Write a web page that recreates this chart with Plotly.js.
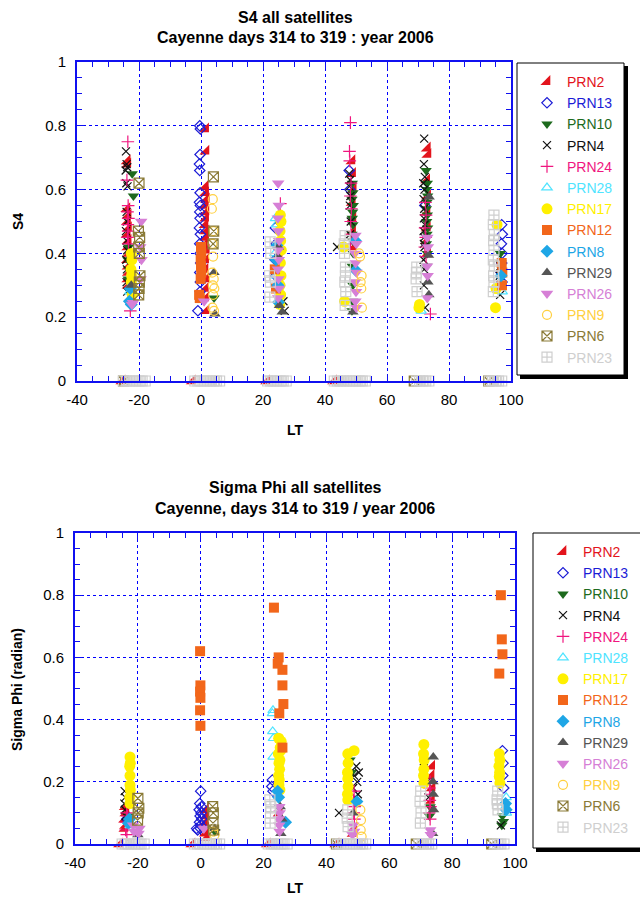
<!DOCTYPE html>
<html><head><meta charset="utf-8">
<script src="https://cdn.plot.ly/plotly-3.0.1.min.js"></script>
<style>html,body{margin:0;padding:0;background:#fff}#chart{width:640px;height:899px}</style>
</head><body><div id="chart"></div>
<script>
// ---------- S4 panel data (LT, S4) ----------
const PRN2_s4_lt = [-23.8,-23.6,-23.9,-23.5,-23.7,-23.4,-23.8,-23.5,-23.6,-23.3,-23.7,-23.5,-23.4,-23.6,-23.5, 1.5,1.6,1.4,1.5,1.7,1.4,1.6,1.5,1.3,1.6,1.5,1.4,1.7,1.5,1.3,1.6,1.4,1.5,1.6, 25.2,25.4, 48.7,48.9,49.1,48.8,49.0,48.9,49.2, 73.0,73.2,72.8,73.1,72.9,73.0,72.7,73.1, -25.5,-2.8,21.2,42.8];
const PRN2_s4 = [0.69,0.68,0.54,0.52,0.50,0.48,0.46,0.44,0.42,0.40,0.38,0.36,0.34,0.32,0.30, 0.79,0.72,0.61,0.59,0.57,0.55,0.53,0.51,0.49,0.47,0.45,0.43,0.41,0.38,0.35,0.32,0.29,0.26,0.22, 0.40,0.30, 0.69,0.65,0.60,0.56,0.51,0.47,0.42, 0.73,0.71,0.63,0.58,0.53,0.48,0.44,0.40, 0,0,0,0];
const PRN13_s4_lt = [-0.4,-0.2,-0.3,-0.5,-0.4,-0.3,-0.5,-0.2,-0.4,-0.3,-0.5,-0.2,-0.4,-0.3,-0.1,-0.4,-0.2,-0.3,-1.0, 24.0,24.2,23.9,24.1, 47.8,48.0, 72.2, 97.0,97.2,96.9,97.1,97.0,96.8,97.1];
const PRN13_s4 = [0.80,0.79,0.71,0.68,0.66,0.59,0.56,0.55,0.53,0.51,0.48,0.46,0.43,0.40,0.37,0.34,0.31,0.28,0.22, 0.48,0.43,0.38,0.33, 0.66,0.60, 0.55, 0.49,0.46,0.43,0.40,0.37,0.34,0.31];
const PRN10_s4_lt = [-22.2,-21.8,-23.4,-23.6,-23.3,-23.5, 4.2, 48.8,49.0,48.7,49.1,48.9,48.8,49.0,48.7,48.9,49.1,48.8,49.0,48.9,48.7, 72.6,73.0,72.8,73.1,72.9,72.7,73.0,72.8,73.1,72.9,72.7,73.0,72.8, 96.6,96.8];
const PRN10_s4 = [0.65,0.58,0.42,0.38,0.35,0.32, 0.26, 0.62,0.59,0.57,0.55,0.53,0.51,0.49,0.46,0.44,0.40,0.36,0.30,0.25,0.22, 0.66,0.62,0.60,0.58,0.56,0.54,0.52,0.50,0.48,0.46,0.43,0.40,0.36, 0.40,0.37];
const PRN4_s4_lt = [-24.2,-24.0,-23.8,-24.3,-24.1,-23.7,-24.0,-23.9,-24.2,-24.0,-23.8,-24.1,-23.9,-24.0,-23.8, 27.0,26.6, 47.8,48.1,47.9,48.2,48.0,48.3,48.1,43.9, 72.0,71.9,72.2,71.7,72.1,71.8,72.0,71.9,72.2,71.8,72.0,71.9,72.1,71.8,72.0,71.9,72.3, 96.6,96.4,96.7,96.5];
const PRN4_s4 = [0.72,0.68,0.67,0.66,0.62,0.61,0.53,0.50,0.47,0.44,0.41,0.38,0.35,0.31,0.28, 0.22,0.25, 0.65,0.63,0.61,0.58,0.55,0.50,0.46,0.42, 0.76,0.68,0.64,0.62,0.60,0.57,0.54,0.51,0.49,0.47,0.45,0.43,0.42,0.38,0.35,0.30,0.23, 0.36,0.33,0.30,0.27];
const PRN24_s4_lt = [-23.6,-23.9,-23.5,-23.7,-23.4,-23.6,-23.5,-23.7,-23.4,-22.8, 25.6, 48.2,47.9,48.0,48.4,48.2,48.5,48.3,48.4,48.2, 72.4,72.6,72.3,72.5,72.2,72.6,74.0];
const PRN24_s4 = [0.75,0.63,0.55,0.53,0.51,0.49,0.47,0.45,0.43,0.22, 0.556, 0.81,0.72,0.69,0.62,0.58,0.54,0.50,0.46,0.43, 0.56,0.52,0.48,0.45,0.42,0.39,0.21];
const PRN28_s4_lt = [-23.0, 24.0,24.3,23.8,24.1, 71.0, 97.2];
const PRN28_s4 = [0.28, 0.51,0.49,0.40,0.33, 0.22, 0.28];
const PRN17_s4_lt = [-22.5,-22.3,-22.6,-22.4,-22.5,-22.2,-22.6, 25.6,25.8,25.5,25.7,25.9,25.6,25.8,25.5,25.7,25.4, 46.0,46.3, 70.5,70.3, 95.5,95.2,95.0];
const PRN17_s4 = [0.40,0.38,0.35,0.33,0.31,0.27,0.25, 0.52,0.50,0.47,0.44,0.41,0.37,0.33,0.30,0.27,0.24, 0.42,0.25, 0.24,0.23, 0.49,0.29,0.23];
const PRN12_s4_lt = [0.0,0.1,-0.1,0.0,0.1,-0.1,-0.6,-0.4, 23.8,24.2, 97.0,97.2,97.1];
const PRN12_s4 = [0.42,0.40,0.38,0.36,0.34,0.32,0.27,0.26, 0.35,0.29, 0.37,0.34,0.30];
const PRN8_s4_lt = [-22.8,-22.5,-23.1, 24.5,24.2,24.8,25.0, 49.8,49.9, 96.8];
const PRN8_s4 = [0.29,0.24,0.25, 0.425,0.38,0.30,0.247, 0.44,0.347, 0.33];
const PRN29_s4_lt = [-22.5, 4.2,4.5, 25.0,24.8,25.3,26.2, 49.0, 73.6,73.4,73.2,73.5];
const PRN29_s4 = [0.30, 0.34,0.21, 0.42,0.39,0.237,0.216, 0.216, 0.577,0.394,0.31,0.27];
const PRN26_s4_lt = [-19.3,-19.6,-19.2,-19.5,-22.3,-21.9, 1.0, 24.9,25.1,24.8,25.0,25.2,24.9,25.1,24.8,25.0,25.2,24.9, 49.8,50.1,49.6,49.9,50.2,49.7,50.0,49.8,50.1, 73.0,73.2,72.9,73.1,73.0];
const PRN26_s4 = [0.50,0.42,0.38,0.32,0.24,0.245, 0.25, 0.62,0.55,0.51,0.47,0.44,0.41,0.38,0.35,0.32,0.29,0.26, 0.456,0.43,0.40,0.37,0.34,0.31,0.28,0.25,0.23, 0.45,0.42,0.36,0.33,0.26];
const PRN9_s4_lt = [3.8,3.5,4.0,3.7,3.9,3.6,4.1,3.8,4.3,3.9,3.7,4.2, 51.0,51.3,51.8,51.5,51.7,51.9];
const PRN9_s4 = [0.57,0.54,0.47,0.43,0.39,0.34,0.32,0.30,0.29,0.27,0.23,0.22, 0.40,0.39,0.33,0.31,0.29,0.23];
const PRN6_s4_lt = [-20.0,-20.2,-19.8,-20.1,-19.9,-19.7,-19.9,-20.0,-20.1, 4.0,4.1,3.9, -25.0,68.8,92.8];
const PRN6_s4 = [0.62,0.47,0.45,0.42,0.40,0.33,0.31,0.29,0.27, 0.64,0.47,0.43, 0,0,0];
const PRN23_s4_lt = [22.3,22.1,22.4,22.2,22.5, 46.5,46.3,46.6,46.4,46.7,46.5,46.2,46.6, 69.6,69.4,69.7,69.5, 94.5,94.3,94.6,94.4,94.5,94.3,94.6,94.4,94.5,94.3,
  -25,-24,-23,-22,-21,-20,-19,-18, -2,-1,0,1,2,3,4,5,6, 21.5,22.5,23.5,24.5,25.5,26.5,27.5, 43,44,45,46,47,48,49,50,51,52,53, 69.5,70.5,71.5,72.5,73.5, 93,94,95,96,97];
const PRN23_s4 = [0.436,0.33,0.31,0.263,0.40, 0.456,0.40,0.357,0.31,0.28,0.237,0.43,0.33, 0.357,0.32,0.28,0.34, 0.52,0.49,0.46,0.44,0.41,0.38,0.36,0.33,0.31,0.28,
  0,0,0,0,0,0,0,0, 0,0,0,0,0,0,0,0,0, 0,0,0,0,0,0,0, 0,0,0,0,0,0,0,0,0,0,0, 0,0,0,0,0, 0,0,0,0,0];

// ---------- Sigma Phi panel data (LT, radian) ----------
const PRN2_sp_lt = [-24.0,-23.8,-24.2,-23.9,-24.1, 1.5,1.7,1.4,1.6,1.5,1.8, 25.0, 48.5,48.7, 73.5,73.3,73.6,73.4, -25.8,-2.8,21.2,43.0];
const PRN2_sp = [0.12,0.10,0.08,0.06,0.05, 0.11,0.09,0.07,0.05,0.035,0.02, 0.10, 0.034,0.05, 0.25,0.22,0.18,0.14, 0,0,0,0];
const PRN13_sp_lt = [-23.5, 0.0,-0.3,0.2,-0.5,0.1,-0.2,0.3,-0.4,0.0,-0.1,-1.0,-1.3, 22.8,22.6,23.0, 96.0,96.2,96.1,96.4];
const PRN13_sp = [0.08, 0.17,0.13,0.12,0.11,0.10,0.09,0.08,0.07,0.06,0.05,0.045,0.05, 0.206,0.185,0.17, 0.30,0.26,0.22,0.18];
const PRN10_sp_lt = [-23.0,-22.8, 4.5, 25.0, 47.5,48.0, 73.0,72.8, 96.0,96.3,95.8];
const PRN10_sp = [0.09,0.07, 0.04, 0.12, 0.27,0.23, 0.12,0.09, 0.09,0.072,0.06];
const PRN4_sp_lt = [-24.2,-24.0,-24.3,-24.1,-23.9, 49.5,50.3,48.8,49.8,48.5,50.0,49.2, 44.0, 71.0,72.0,72.5, 95.5];
const PRN4_sp = [0.17,0.15,0.13,0.11,0.09, 0.25,0.23,0.22,0.20,0.18,0.16,0.15, 0.10, 0.266,0.20,0.15, 0.06];
const PRN24_sp_lt = [-23.6,-23.3,-23.8,-23.9,-23.5, 48.8,48.6,49.0,48.7,48.9, 73.0,72.8,73.2,72.9,73.1,72.7,73.0];
const PRN24_sp = [0.10,0.09,0.07,0.045,0.03, 0.17,0.14,0.12,0.10,0.08, 0.20,0.18,0.16,0.14,0.12,0.10,0.08];
const PRN28_sp_lt = [-22.5, 22.8,23.0,22.9,23.1,23.0, 97.2,97.0,97.3];
const PRN28_sp = [0.06, 0.42,0.43,0.362,0.34,0.28, 0.15,0.12,0.10];
const PRN17_sp_lt = [-22.5,-22.4,-22.6,-22.5,-22.5,-22.4,-22.6,-22.5, 24.8,25.3,24.7,25.2,24.9,25.1,24.8,25.0,24.9,25.2,25.4,25.6, 46.8,46.9,46.7,46.8,46.9,46.7,46.8,48.8, 71.0,70.9,71.1,71.0,70.9,71.0, 95.0,95.2,94.9,95.1,95.0,95.2];
const PRN17_sp = [0.28,0.26,0.25,0.22,0.19,0.174,0.15,0.13, 0.34,0.31,0.29,0.27,0.26,0.24,0.22,0.206,0.19,0.174,0.30,0.33, 0.29,0.26,0.23,0.21,0.185,0.16,0.142,0.30, 0.32,0.29,0.27,0.24,0.22,0.196, 0.29,0.27,0.25,0.23,0.217,0.196];
const PRN12_sp_lt = [-0.2,-0.1,-0.2,-0.1,-0.2,-0.1, 23.3, 24.8,24.5,26.0,26.0,26.3,25.0,26.0, 95.5,95.8,96.0,95.0];
const PRN12_sp = [0.62,0.51,0.49,0.47,0.43,0.38, 0.76, 0.60,0.58,0.56,0.51,0.45,0.42,0.31, 0.80,0.658,0.61,0.548];
const PRN8_sp_lt = [-23.0,-22.7, 24.5,24.8,27.0, 49.7, 97.0,97.2];
const PRN8_sp = [0.067,0.08, 0.17,0.15,0.07, 0.137, 0.13,0.11];
const PRN29_sp_lt = [-20.0, 4.5, 25.5,25.8,25.3, 48.5, 74.0,74.1,73.8,74.0,73.9];
const PRN29_sp = [0.03, 0.05, 0.034,0.08,0.12, 0.10, 0.28,0.11,0.034,0.16,0.20];
const PRN26_sp_lt = [-19.5,-19.8,-21.5,-21.2, 1.0, 25.0,25.1,24.9,25.0,25.1, 48.5,48.8,48.3, 73.0,73.2];
const PRN26_sp = [0.05,0.034,0.06,0.04, 0.05, 0.12,0.10,0.08,0.06,0.04, 0.06,0.04,0.03, 0.045,0.03];
const PRN9_sp_lt = [4.0,4.4, 50.8,51.0,50.9,51.2];
const PRN9_sp = [0.04,0.03, 0.11,0.077,0.045,0.024];
const PRN6_sp_lt = [-20.0,-19.7,-19.9,-20.1, 3.8,4.0,3.9,4.1, 43.2,68.6,92.6];
const PRN6_sp = [0.147,0.115,0.10,0.077, 0.12,0.10,0.067,0.045, 0,0,0];
const PRN23_sp_lt = [22.0,22.2,22.1,22.3, 46.8,46.6,46.9, 70.0,69.8,70.1,69.9, 94.5,94.3,94.6,94.4,
  -25,-24,-23,-22,-21,-20,-19,-18, -2,-1,0,1,2,3,4,5,6, 21.5,22.5,23.5,24.5,25.5,26.5,27.5, 43.5,44.5,45.5,46.5,47.5,48.5,49.5,50.5,51.5,52.5, 69.5,70.5,71.5,72.5,73.5, 93.5,94.5,95.5,96.5];
const PRN23_sp = [0.142,0.10,0.067,0.12, 0.11,0.083,0.056, 0.17,0.137,0.10,0.067, 0.17,0.142,0.11,0.13,
  0,0,0,0,0,0,0,0, 0,0,0,0,0,0,0,0,0, 0,0,0,0,0,0,0, 0,0,0,0,0,0,0,0,0,0, 0,0,0,0,0, 0,0,0,0];

const SATELLITES = ['PRN2','PRN13','PRN10','PRN4','PRN24','PRN28','PRN17','PRN12','PRN8','PRN29','PRN26','PRN9','PRN6','PRN23'];
const X_TICKS = [-40,-20,0,20,40,60,80,100];

// lookup built from the arrays above
const S4_DATA = {
  PRN2:[PRN2_s4_lt,PRN2_s4], PRN13:[PRN13_s4_lt,PRN13_s4], PRN10:[PRN10_s4_lt,PRN10_s4], PRN4:[PRN4_s4_lt,PRN4_s4],
  PRN24:[PRN24_s4_lt,PRN24_s4], PRN28:[PRN28_s4_lt,PRN28_s4], PRN17:[PRN17_s4_lt,PRN17_s4], PRN12:[PRN12_s4_lt,PRN12_s4],
  PRN8:[PRN8_s4_lt,PRN8_s4], PRN29:[PRN29_s4_lt,PRN29_s4], PRN26:[PRN26_s4_lt,PRN26_s4], PRN9:[PRN9_s4_lt,PRN9_s4],
  PRN6:[PRN6_s4_lt,PRN6_s4], PRN23:[PRN23_s4_lt,PRN23_s4]
};
const SP_DATA = {
  PRN2:[PRN2_sp_lt,PRN2_sp], PRN13:[PRN13_sp_lt,PRN13_sp], PRN10:[PRN10_sp_lt,PRN10_sp], PRN4:[PRN4_sp_lt,PRN4_sp],
  PRN24:[PRN24_sp_lt,PRN24_sp], PRN28:[PRN28_sp_lt,PRN28_sp], PRN17:[PRN17_sp_lt,PRN17_sp], PRN12:[PRN12_sp_lt,PRN12_sp],
  PRN8:[PRN8_sp_lt,PRN8_sp], PRN29:[PRN29_sp_lt,PRN29_sp], PRN26:[PRN26_sp_lt,PRN26_sp], PRN9:[PRN9_sp_lt,PRN9_sp],
  PRN6:[PRN6_sp_lt,PRN6_sp], PRN23:[PRN23_sp_lt,PRN23_sp]
};

// ---------- styles ----------
const STYLE = {
  PRN2:  {symbol:'triangle-se', color:'#e3141c', size:11, open:false},
  PRN13: {symbol:'diamond-open', color:'#1c1cd6', size:8, open:true},
  PRN10: {symbol:'triangle-down', color:'#1d6a1d', size:10, open:false},
  PRN4:  {symbol:'x-thin-open', color:'#111111', size:8, open:true},
  PRN24: {symbol:'cross-thin-open', color:'#f0167f', size:9, open:true},
  PRN28: {symbol:'triangle-up-open', color:'#4fe4ff', size:9, open:true},
  PRN17: {symbol:'circle', color:'#fff000', size:11, open:false},
  PRN12: {symbol:'square', color:'#f2661a', size:10, open:false},
  PRN8:  {symbol:'diamond', color:'#1ea6e6', size:10, open:false},
  PRN29: {symbol:'triangle-up', color:'#555555', size:10, open:false},
  PRN26: {symbol:'triangle-down', color:'#d67fd6', size:11, open:false},
  PRN9:  {symbol:'circle-open', color:'#ffd040', size:9, open:true},
  PRN6:  {symbol:'square-x-open', color:'#8a7a36', size:10, open:true},
  PRN23: {symbol:'square-cross-open', color:'#cfcfcf', size:10, open:true}
};

const W = 640, H = 899;
const px = v => v / W;
const py = v => 1 - v / H;

const traces = [];
function addPanel(dataMap, xa, ya, legendId) {
  SATELLITES.forEach(name => {
    const st = STYLE[name];
    const d = dataMap[name];
    traces.push({
      type:'scatter', mode:'markers', x:d[0], y:d[1], xaxis:xa, yaxis:ya, legend:legendId,
      name:'<span style="color:' + st.color + '">' + name + '</span>',
      cliponaxis:false, hoverinfo:'skip',
      marker:{symbol:st.symbol, color:st.color, size:st.size, line:{color:st.color, width: st.open ? 1.2 : 0}}
    });
  });
}
addPanel(S4_DATA, 'x', 'y', 'legend');
addPanel(SP_DATA, 'x2', 'y2', 'legend2');

// minor tick positions derived from the axis range (every 5 LT units)
const X_MINOR = [];
for (let v = X_TICKS[0]; v <= X_TICKS[X_TICKS.length - 1]; v += 5) if (v % 20 !== 0) X_MINOR.push(v);

const BLUE = '#1010f0';
const FONT = 'Liberation Sans, Arial, sans-serif';
function xAxis(d0, d1, anchor) {
  return {domain:[px(d0), px(d1)], anchor:anchor, range:[-40,100], tickmode:'array', tickvals:X_TICKS, ticktext:X_TICKS.map(String),
    showline:true, linecolor:BLUE, linewidth:2, mirror:'ticks', ticks:'inside', ticklen:7, tickcolor:BLUE, tickwidth:1,
    minor:{ticks:'inside', ticklen:5, tickmode:'array', tickvals:X_MINOR, tickcolor:BLUE, tickwidth:1, showgrid:false},
    showgrid:true, gridcolor:'#0000ff', griddash:'dot', gridwidth:1, zeroline:false,
    tickfont:{family:FONT, size:15, color:'#000'}, ticklabelstandoff:4, fixedrange:true};
}
function yAxis(d0, d1, anchor) {
  return {domain:[py(d1), py(d0)], anchor:anchor, range:[0,1], tickmode:'linear', dtick:0.2, tick0:0,
    showline:true, linecolor:BLUE, linewidth:2, mirror:'ticks', ticks:'inside', ticklen:7, tickcolor:BLUE, tickwidth:1,
    minor:{ticks:'inside', ticklen:5, tickmode:'linear', dtick:0.05, tick0:0, tickcolor:BLUE, tickwidth:1, showgrid:false},
    showgrid:true, gridcolor:'#0000ff', griddash:'dot', gridwidth:1, zeroline:false,
    tickfont:{family:FONT, size:15, color:'#000'}, ticklabelstandoff:6, fixedrange:true};
}

function ann(text, x, y, size, angle) {
  return {text:'<b>' + text + '</b>', x:px(x), y:py(y), xref:'paper', yref:'paper', xanchor:'center', yanchor:'middle',
    showarrow:false, textangle: angle || 0, font:{family:FONT, size:size, color:'#000'}};
}

const layout = {
  width:W, height:H, margin:{l:0,r:0,t:0,b:0}, paper_bgcolor:'#fff', plot_bgcolor:'#fff',
  showlegend:true, hovermode:false,
  xaxis: xAxis(77, 511, 'y'),
  yaxis: yAxis(62, 381, 'x'),
  xaxis2: xAxis(75, 515, 'y2'),
  yaxis2: yAxis(533, 844, 'x2'),
  legend:{x:px(527), y:py(66), xanchor:'left', yanchor:'top', bgcolor:'rgba(0,0,0,0)', borderwidth:0,
    font:{family:FONT, size:14, color:'#000'}, itemclick:false, itemdoubleclick:false},
  legend2:{x:px(543), y:py(536), xanchor:'left', yanchor:'top', bgcolor:'rgba(0,0,0,0)', borderwidth:0,
    font:{family:FONT, size:14, color:'#000'}, itemclick:false, itemdoubleclick:false},
  shapes:[
    {type:'rect', xref:'paper', yref:'paper', x0:px(520), x1:px(628), y0:py(66), y1:py(379), fillcolor:'#000', line:{width:0}, layer:'above'},
    {type:'rect', xref:'paper', yref:'paper', x0:px(517), x1:px(624), y0:py(63), y1:py(375), fillcolor:'#fff', line:{color:'#000', width:1}, layer:'above'},
    {type:'rect', xref:'paper', yref:'paper', x0:px(536), x1:px(660), y0:py(536), y1:py(852), fillcolor:'#000', line:{width:0}, layer:'above'},
    {type:'rect', xref:'paper', yref:'paper', x0:px(533), x1:px(656), y0:py(533), y1:py(848), fillcolor:'#fff', line:{color:'#000', width:1}, layer:'above'}
  ],
  annotations:[
    ann('S4 all satellites', 295, 17, 16),
    ann('Cayenne days 314 to 319 : year 2006', 295, 38, 16),
    ann('S4', 18, 222, 14, -90),
    ann('LT', 295, 430, 14),
    ann('Sigma Phi all satellites', 295, 487, 16),
    ann('Cayenne, days 314 to 319 / year 2006', 295, 508, 16),
    ann('Sigma Phi (radian)', 17, 690, 14, -90),
    ann('LT', 295, 888, 14)
  ]
};

Plotly.newPlot('chart', traces, layout, {displayModeBar:false, staticPlot:true});
</script>
</body></html>
